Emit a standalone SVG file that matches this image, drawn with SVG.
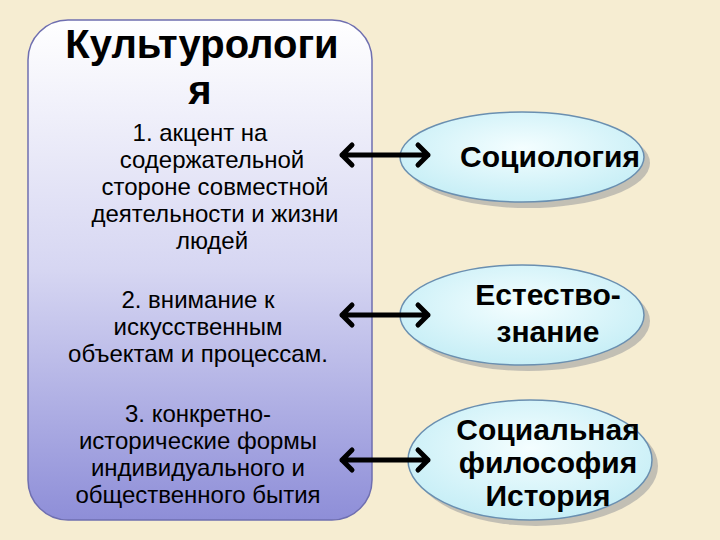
<svg xmlns="http://www.w3.org/2000/svg" width="720" height="540" viewBox="0 0 720 540">
<defs>
<linearGradient id="pg" x1="0" y1="0" x2="0" y2="1"><stop offset="0" stop-color="#ffffff"/><stop offset="0.5" stop-color="#d6d6f2"/><stop offset="1" stop-color="#8e8ed8"/></linearGradient>
<radialGradient id="eg" cx="0.5" cy="0.4" r="0.6"><stop offset="0" stop-color="#f4feff"/><stop offset="1" stop-color="#c6eef6"/></radialGradient>
<style>
.t{font-family:"Liberation Sans",Arial,sans-serif;fill:#000;text-anchor:middle}
.s{font-size:24px}
.b{font-size:30px;font-weight:bold}
.el{fill:url(#eg);stroke:#6a8fb0;stroke-width:1.5}
.sh{fill:#a0a0a0;opacity:0.6}
.ar{stroke:#000;stroke-width:5;fill:none;stroke-linecap:round;stroke-linejoin:round}
</style>
</defs>
<rect width="720" height="540" fill="#f6edd2"/>
<g id="panel">
<rect x="28" y="20" width="344" height="500" rx="40" fill="url(#pg)" stroke="#6f6fb0" stroke-width="1.5"/>
<text class="t" x="202" y="58" style="font-size:40px;font-weight:bold">Культурологи</text>
<text class="t" x="200" y="104" style="font-size:40px;font-weight:bold">я</text>
<text class="t s" x="200" y="141">1.  акцент на</text>
<text class="t s" x="212" y="168">содержательной</text>
<text class="t s" x="215" y="195">стороне совместной</text>
<text class="t s" x="215" y="222">деятельности и жизни</text>
<text class="t s" x="212" y="249">людей</text>
<text class="t s" x="198" y="308">2. внимание к</text>
<text class="t s" x="198" y="335">искусственным</text>
<text class="t s" x="198" y="362">объектам и процессам.</text>
<text class="t s" x="198" y="422">3.  конкретно-</text>
<text class="t s" x="198" y="449">исторические формы</text>
<text class="t s" x="198" y="476">индивидуального и</text>
<text class="t s" x="198" y="503">общественного бытия</text>
</g>
<g id="n1">
<ellipse class="sh" cx="528" cy="163" rx="122" ry="45"/>
<ellipse class="el" cx="522" cy="157" rx="122" ry="45"/>
<text class="t b" x="550" y="167">Социология</text>
</g>
<g id="n2">
<ellipse class="sh" cx="528" cy="321" rx="122" ry="50"/>
<ellipse class="el" cx="522" cy="315" rx="122" ry="50"/>
<text class="t b" x="548" y="305">Естество-</text>
<text class="t b" x="548" y="342">знание</text>
</g>
<g id="n3">
<ellipse class="sh" cx="536" cy="466" rx="122" ry="60"/>
<ellipse class="el" cx="530" cy="460" rx="122" ry="60"/>
<text class="t b" x="548" y="440">Социальная</text>
<text class="t b" x="548" y="473">философия</text>
<text class="t b" x="548" y="506">История</text>
</g>
<g id="connectors">
<path class="ar" d="M342,155 H428 M352,145 L342,155 L352,165 M418,145 L428,155 L418,165"/>
<path class="ar" d="M342,315 H428 M352,305 L342,315 L352,325 M418,305 L428,315 L418,325"/>
<path class="ar" d="M342,460 H428 M352,450 L342,460 L352,470 M418,450 L428,460 L418,470"/>
</g>
</svg>
